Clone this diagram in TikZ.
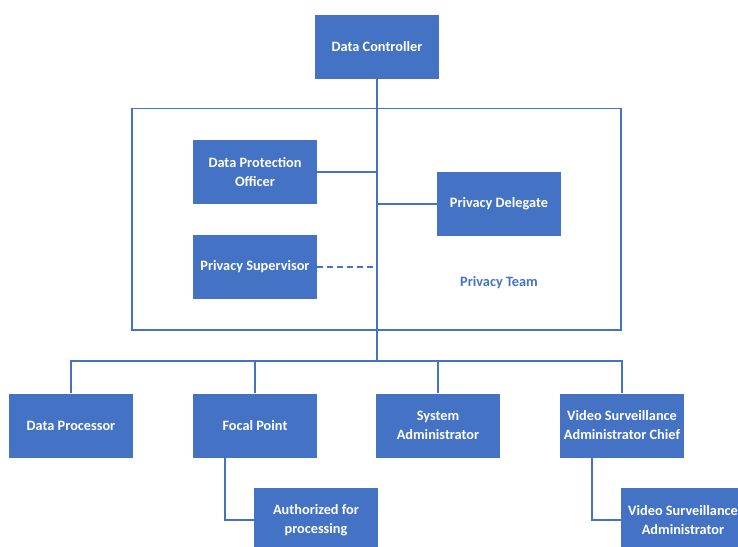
\documentclass[tikz,border=0pt]{standalone}
\usepackage{fontspec}
\setmainfont{Carlito}
\usepackage{tikz}
\usetikzlibrary{calc}
\definecolor{roleblue}{HTML}{4472C4}
\tikzset{
	role/.style={fill=roleblue, text=white, font=\bfseries\fontsize{14.3}{19}\selectfont,
		align=center, minimum width=124pt, minimum height=64pt, inner sep=0pt},
	link/.style={draw=roleblue, line width=1.5pt}
}

\begin{document}
\begin{tikzpicture}[x=1pt, y=-1pt]
		%%%%% START %%%%%
		\useasboundingbox (0, 0) rectangle (738, 546);
		
		\node[role] (ctrl) at (377, 47) {Data Controller};
		
		\draw[link] (132, 108.5) rectangle (621, 330);
		\node[text=roleblue, font=\bfseries\fontsize{14.3}{19}\selectfont] (team) at (499, 283) {Privacy Team};
		
		\node[role] (dpo) at (255, 172) {Data Protection\\Officer};
		\node[role] (deleg) at (499, 204) {Privacy Delegate};
		\node[role] (superv) at (255, 267) {Privacy Supervisor};
		
		\node[role] (proc) at (71, 425.5) {Data Processor};
		\node[role] (focal) at (255, 425.5) {Focal Point};
		\node[role] (sysadm) at (438, 425.5) {System\\Administrator};
		\node[role] (chief) at (622, 425.5) {Video Surveillance\\Administrator Chief};
		
		\node[role] (auth) at (316, 520) {Authorized for\\processing};
		\node[role] (vsadm) at (683, 520) {Video Surveillance\\Administrator};
		
		\coordinate (bus) at (377, 361);
		
		\draw[link] (ctrl.south) -- (bus);
		\draw[link] (dpo.east) -- (dpo.east -| ctrl.south);
		\draw[link] (deleg.west) -- (deleg.west -| ctrl.south);
		\draw[link, dashed, dash pattern=on 6pt off 4pt] (superv.east) -- (superv.east -| ctrl.south);
		
		\draw[link] (proc.north) -- (proc.north |- bus) -- (chief.north |- bus) -- (chief.north);
		\draw[link] (focal.north) -- (focal.north |- bus);
		\draw[link] (sysadm.north) -- (sysadm.north |- bus);
		
		\draw[link] ([xshift=-30pt]focal.south) |- (auth.west);
		\draw[link] ([xshift=-30pt]chief.south) |- (vsadm.west);
		
		%%%%% END %%%%%
	\end{tikzpicture}
\end{document}
